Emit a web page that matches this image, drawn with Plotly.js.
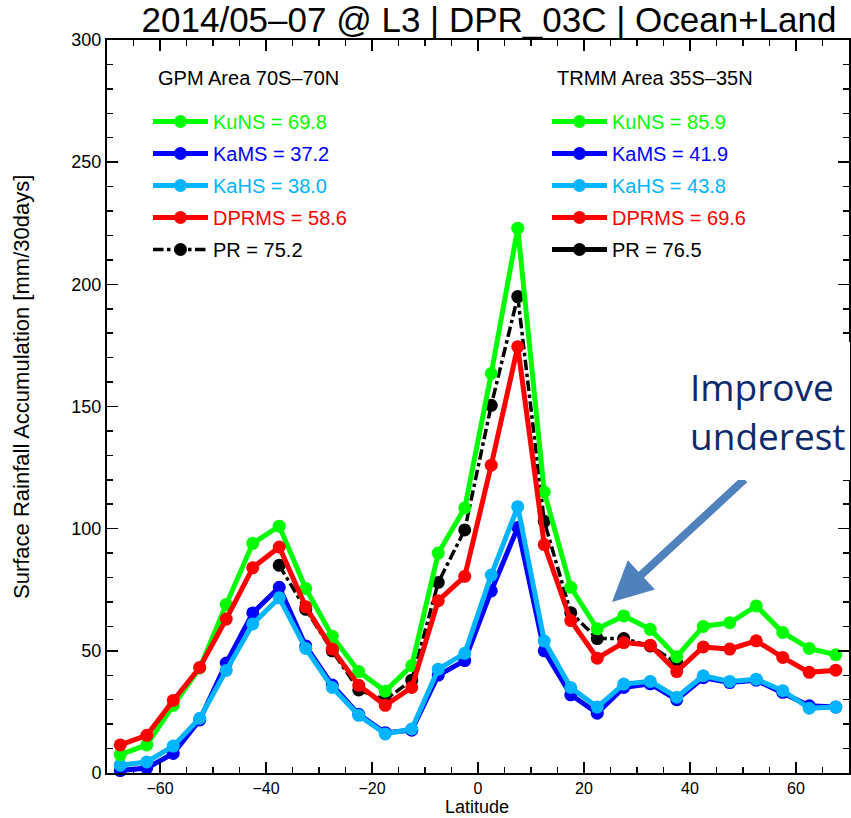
<!DOCTYPE html>
<html>
<head>
<meta charset="utf-8">
<script src="https://cdn.plot.ly/plotly-3.0.1.min.js"></script>
<style>html,body{margin:0;padding:0;background:#fff;}#chart{width:851px;height:818px;}</style>
</head>
<body>
<div id="chart"></div>
<script>
// Latitude bin centres
const latitude = [-67.5,-62.5,-57.5,-52.5,-47.5,-42.5,-37.5,-32.5,-27.5,-22.5,-17.5,-12.5,-7.5,-2.5,
                  2.5,7.5,12.5,17.5,22.5,27.5,32.5,37.5,42.5,47.5,52.5,57.5,62.5,67.5];

// Surface rainfall accumulation [mm/30days]
const kuNS  = [7.5,11.5,27.7,43,69,94,101,75.5,56,41.5,33.5,44,90,108.5,
               163.5,223,115,76,59,64.3,58.8,47.6,60,61.5,68.4,57.5,51,48.4];
const kaMS  = [1,2,8,21.7,45,65.5,76,52,36,24,16.5,17.5,40,46,
               74.5,100.5,50,32,24.5,35,36.5,30,39,37,38,33,27.5,27];
const kaHS  = [3.2,4.5,11,22.4,42,61,71.7,51,35,23.6,16,18,42.5,49,
               81,109,54,35,27,36.4,37.5,31,39.8,37.5,38.4,33.7,26.5,27];
const dprMS = [11.5,15.4,29.7,43.2,63,84,92.5,68,50.7,35.9,27.7,35,70.5,80.5,
               126,174.5,93.5,62.4,47,53.4,52.3,41.5,51.6,50.7,54.1,47.3,41.2,42.1];
const pr    = [null,null,null,null,null,null,85,67,50,34,30,38,78,99.5,
               150.5,195,103,65.6,55,55,52,45,null,null,null,null,null,null];

// Legend labels and area means
const seriesNames = ['KuNS','KaMS','KaHS','DPRMS','PR'];
const gpmMeans  = [69.8, 37.2, 38.0, 58.6, 75.2];
const trmmMeans = [85.9, 41.9, 43.8, 69.6, 76.5];
const gpmTitle  = 'GPM Area 70S\u201370N';
const trmmTitle = 'TRMM Area 35S\u201335N';
const chartTitle = '2014/05\u201307 @ L3 | DPR_03C | Ocean+Land';
const xTitle = 'Latitude';
const yTitle = 'Surface Rainfall Accumulation [mm/30days]';
const noteLines = ['Improve', 'underest'];

const seriesValues = [kuNS, kaMS, kaHS, dprMS, pr];
const colors = ['#00ff00', '#0000ff', '#00b4ff', '#ff0000', '#000000'];
const drawOrder = [4, 1, 2, 0, 3];
const FONT = 'Liberation Sans, Arial, sans-serif';

const traces = [];
drawOrder.forEach(function(i){
  traces.push({
    x: latitude, y: seriesValues[i], type: 'scatter', mode: 'lines+markers',
    name: '<span style="color:' + colors[i] + '">' + seriesNames[i] + ' = ' + gpmMeans[i].toFixed(1) + '</span>',
    legend: 'legend', legendgroup: 'g' + i, legendrank: i + 1,
    line: {color: colors[i], width: i === 4 ? 3.5 : 5, dash: i === 4 ? 'dashdot' : 'solid'},
    marker: {color: colors[i], size: 13, symbol: 'circle', line: {width: 0}},
    cliponaxis: false, connectgaps: false, hoverinfo: 'x+y'
  });
});
for (let i = 0; i < seriesNames.length; i++) {
  traces.push({
    x: [null], y: [null], type: 'scatter', mode: 'lines+markers',
    name: '<span style="color:' + colors[i] + '">' + seriesNames[i] + ' = ' + trmmMeans[i].toFixed(1) + '</span>',
    legend: 'legend2', legendgroup: 't' + i, legendrank: i + 1,
    line: {color: colors[i], width: 5},
    marker: {color: colors[i], size: 13, symbol: 'circle', line: {width: 0}},
    hoverinfo: 'skip'
  });
}

const W = 851, H = 818, L = 107, R = 2, T = 40, B = 45;
const pw = W - L - R, ph = H - T - B;
function px(xp){ return (xp - L) / pw; }
function py(yp){ return (H - B - yp) / ph; }

const legendCommon = {
  bgcolor: 'rgba(0,0,0,0)', borderwidth: 0,
  font: {family: FONT, size: 20, color: '#000'},
  itemwidth: 55, tracegroupgap: 3, traceorder: 'grouped', itemsizing: 'trace',
  xanchor: 'left', yanchor: 'top', itemclick: false
};

const layout = {
  width: W, height: H,
  margin: {l: L, r: R, t: T, b: B, pad: 0},
  paper_bgcolor: '#fff', plot_bgcolor: '#fff',
  font: {family: FONT, color: '#000'},
  title: {text: chartTitle, x: 489 / W, xanchor: 'center', y: 1 - 20 / H, yanchor: 'middle',
          font: {size: 35, family: FONT, color: '#000'}},
  showlegend: true,
  xaxis: {
    range: [-70, 70], tick0: -60, dtick: 20, ticks: 'inside', ticklen: 11, tickwidth: 1.5, tickcolor: '#000',
    minor: {dtick: 5, ticks: 'inside', ticklen: 6, tickwidth: 1.5, tickcolor: '#000'},
    showline: true, linecolor: '#000', linewidth: 2, mirror: 'ticks',
    showgrid: false, zeroline: false,
    tickfont: {size: 16, family: FONT}
  },
  yaxis: {
    range: [0, 300], tick0: 0, dtick: 50, ticks: 'inside', ticklen: 11, tickwidth: 1.5, tickcolor: '#000',
    minor: {dtick: 10, ticks: 'inside', ticklen: 6, tickwidth: 1.5, tickcolor: '#000'},
    showline: true, linecolor: '#000', linewidth: 2, mirror: 'ticks',
    showgrid: false, zeroline: false,
    tickfont: {size: 18, family: FONT}
  },
  legend: Object.assign({}, legendCommon, {x: px(148), y: py(102)}),
  legend2: Object.assign({}, legendCommon, {x: px(547), y: py(102)}),
  annotations: [
    {xref: 'paper', yref: 'paper', x: px(157), y: py(78), xanchor: 'left', yanchor: 'middle',
     text: gpmTitle, showarrow: false, borderpad: 0, font: {family: FONT, size: 20, color: '#000'}},
    {xref: 'paper', yref: 'paper', x: px(556), y: py(78), xanchor: 'left', yanchor: 'middle',
     text: trmmTitle, showarrow: false, borderpad: 0, font: {family: FONT, size: 20, color: '#000'}},
    {xref: 'paper', yref: 'paper', x: px(22), y: py(387), xanchor: 'center', yanchor: 'middle',
     textangle: -90, text: yTitle, showarrow: false, borderpad: 0, font: {family: FONT, size: 22, color: '#000'}},
    {xref: 'paper', yref: 'paper', x: px(477), y: py(H), xanchor: 'center', yanchor: 'bottom',
     text: xTitle, showarrow: false, borderpad: 0, font: {family: FONT, size: 18, color: '#000'}},
    {xref: 'paper', yref: 'paper', x: px(612), y: py(602), text: '', showarrow: true,
     ax: 134, ay: -124, arrowhead: 2, arrowsize: 1, arrowwidth: 8, arrowcolor: '#4f81bd', standoff: 0},
    {xref: 'paper', yref: 'paper', x: px(690), y: py(411), xanchor: 'left', yanchor: 'middle',
     text: noteLines.join('<br>'), showarrow: false, align: 'left', valign: 'middle',
     width: W - 690 - 1, height: 138, bgcolor: '#ffffff', borderpad: 0, borderwidth: 0,
     font: {family: 'Open Sans, Noto Sans, sans-serif', size: 37, color: '#0b2a6b'}}
  ]
};

Plotly.newPlot('chart', traces, layout, {staticPlot: true, displayModeBar: false});
</script>
</body>
</html>
